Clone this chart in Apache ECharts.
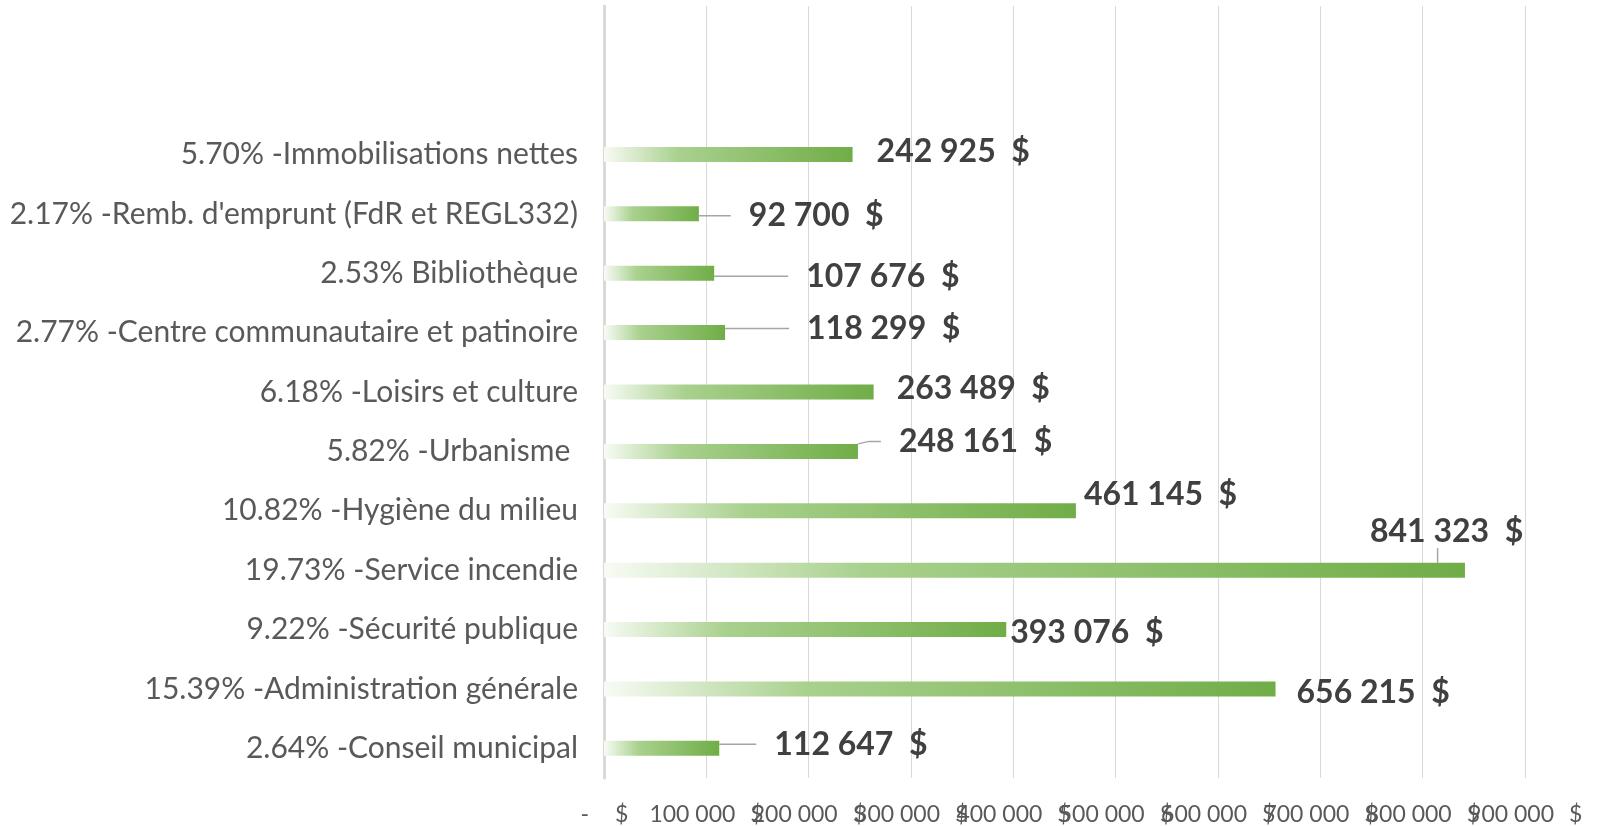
<!DOCTYPE html>
<html>
<head>
<meta charset="utf-8">
<style>
  html, body { margin: 0; padding: 0; background: #fff; }
  #chart { width: 1603px; height: 826px; }
</style>
<script src="https://cdn.jsdelivr.net/npm/echarts@6/dist/echarts.min.js"></script>
</head>
<body>
<div id="chart"></div>
<script>
// rows from bottom to top, like the spreadsheet; two empty rows at the top
const categories = [
  '2.64% -Conseil municipal',
  '15.39% -Administration générale',
  '9.22% -Sécurité publique',
  '19.73% -Service incendie',
  '10.82% -Hygiène du milieu',
  '5.82% -Urbanisme ',
  '6.18% -Loisirs et culture',
  '2.77% -Centre communautaire et patinoire',
  '2.53% Bibliothèque',
  "2.17% -Remb. d'emprunt (FdR et REGL332)",
  '5.70% -Immobilisations nettes',
  '',
  ''
];
const amounts = [112647, 656215, 393076, 841323, 461145, 248161, 263489, 118299, 107676, 92700, 242925];
const tickLabels = ['-', '100 000', '200 000', '300 000', '400 000', '500 000', '600 000', '700 000', '800 000', '900 000'];

// label placement (moved by hand in the original) : [dx, dy, leader line]
const labelShift = [
  [55, -4, true],
  [21, 4, false],
  [4, 3, false],
  [-95, -38, true],
  [8, -16, false],
  [41, -10, true],
  [23, -3, false],
  [82, -4, true],
  [92, 3, true],
  [50, 2, true],
  [24, -3, false]
];
const labelPad = 18;

// accounting format: the number sits left of the tick, the $ right of it
const numShift = 29;

function money(v) {
  return String(v).replace(/\B(?=(\d{3})+(?!\d))/g, ' ') + '  $';
}

const axisFont = { color: '#595959', fontFamily: 'Lato', fontSize: 23 };

const chart = echarts.init(document.getElementById('chart'));

chart.setOption({
  animation: false,
  grid: [
    { left: 604, right: 78, top: 6, bottom: 48, outerBoundsMode: 'none' },
    { left: 604 + numShift, right: 78 - numShift, top: 6, bottom: 48, outerBoundsMode: 'none' }
  ],
  xAxis: [
    {
      type: 'value',
      min: 0,
      max: 900000,
      interval: 100000,
      axisLine: { show: false },
      axisTick: { show: false },
      splitLine: { lineStyle: { color: '#d9d9d9', width: 1 } },
      axisLabel: Object.assign({}, axisFont, {
        margin: 25,
        align: 'left',
        showMinLabel: true,
        showMaxLabel: true,
        formatter: function (v) {
          return v === 0 ? '{z|$}' : '{s|$}';
        },
        rich: {
          z: { padding: [0, 0, 0, 11] },
          s: { padding: [0, 0, 0, 44] }
        }
      })
    },
    {
      gridIndex: 1,
      type: 'value',
      min: 0,
      max: 900000,
      interval: 100000,
      axisLine: { show: false },
      axisTick: { show: false },
      splitLine: { show: false },
      axisLabel: Object.assign({}, axisFont, {
        margin: 25,
        align: 'right',
        showMinLabel: true,
        showMaxLabel: true,
        formatter: function (v) {
          const t = tickLabels[Math.round(v / 100000)];
          return t === '-' ? '{z|-}' : '{n|' + t + '}';
        },
        rich: {
          z: { padding: [0, 44, 0, 0] },
          n: {}
        }
      })
    }
  ],
  yAxis: [
    {
      type: 'category',
      data: categories,
      axisTick: { show: false },
      axisLine: { lineStyle: { color: '#d9d9d9', width: 3 } },
      axisLabel: {
        color: '#595959',
        fontFamily: 'Lato',
        fontSize: 30,
        margin: 26
      }
    },
    {
      gridIndex: 1,
      type: 'category',
      data: categories,
      show: false
    }
  ],
  series: [
    {
      type: 'bar',
      barWidth: 15,
      data: amounts.map(function (v, i) {
        return { value: v, labelLine: { show: labelShift[i][2] } };
      }),
      itemStyle: {
        color: new echarts.graphic.LinearGradient(0, 0, 1, 0, [
          { offset: 0, color: '#f8fbf5' },
          { offset: 0.3, color: '#a9d18e' },
          { offset: 1, color: '#70ad47' }
        ])
      },
      label: {
        show: true,
        position: 'right',
        distance: 0,
        padding: [0, 0, 0, labelPad],
        backgroundColor: 'rgba(255,255,255,0)',
        color: '#404040',
        fontFamily: 'Lato',
        fontWeight: 'bold',
        fontSize: 32,
        formatter: function (p) { return money(p.value); }
      },
      labelLine: {
        show: true,
        length2: 12,
        lineStyle: { color: '#a6a6a6', width: 1.5 }
      },
      labelLayout: function (p) {
        const s = labelShift[p.dataIndex];
        return { dx: s[0] - labelPad, dy: s[1] };
      }
    }
  ]
});
</script>
</body>
</html>
